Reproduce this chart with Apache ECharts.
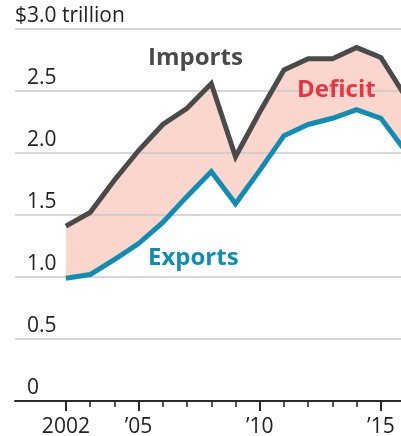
<!DOCTYPE html>
<html>
<head>
<meta charset="utf-8">
<script src="https://cdn.jsdelivr.net/npm/echarts@6/dist/echarts.min.js"></script>
<style>
  html, body { margin: 0; padding: 0; background: #fff; }
  #chart { width: 401px; height: 436px; }
</style>
</head>
<body>
<div id="chart"></div>
<script>
// U.S. trade in goods and services, trillions of dollars
const years   = [2002, 2003, 2004, 2005, 2006, 2007, 2008, 2009, 2010, 2011, 2012, 2013, 2014, 2015, 2016];
const imports = [1.41, 1.52, 1.78, 2.02, 2.23, 2.36, 2.56, 1.97, 2.33, 2.67, 2.76, 2.76, 2.85, 2.77, 2.46];
const exports = [0.99, 1.02, 1.14, 1.27, 1.44, 1.65, 1.85, 1.59, 1.86, 2.14, 2.23, 2.28, 2.35, 2.28, 2.02];

const tickYears  = [2002, 2003, 2004, 2005, 2006, 2007, 2008, 2009, 2010, 2011, 2012, 2013, 2014, 2015];
const labelYears = [2002, 2005, 2010, 2015];

const FONT = '"Open Sans", sans-serif';

const importsPts = years.map((y, i) => [y, imports[i]]);
const exportsPts = years.map((y, i) => [y, exports[i]]);

const chart = echarts.init(document.getElementById('chart'), null, { renderer: 'canvas' });

const xBase = {
  type: 'value',
  min: 1999.9,
  max: 2015.83,
  position: 'bottom',
  splitLine: { show: false },
  z: 4
};

// Shaded band between imports (top) and exports (bottom)
function renderDeficit(params, api) {
  if (params.dataIndex !== 0) return null;
  const top = years.map((y, i) => api.coord([y, imports[i]]));
  const bottom = years.map((y, i) => api.coord([y, exports[i]])).reverse();
  return {
    type: 'polygon',
    shape: { points: top.concat(bottom) },
    style: { fill: '#fad6cd', stroke: null }
  };
}

chart.setOption({
  animation: false,
  backgroundColor: '#fff',
  grid: { left: 15, right: 0, top: 29, bottom: 35, containLabel: false, outerBoundsMode: 'none' },
  xAxis: [
    Object.assign({}, xBase, {
      axisLine: { show: true, lineStyle: { color: '#2a2a2a', width: 2 } },
      axisTick: { show: true, length: 10, lineStyle: { color: '#2a2a2a', width: 2 }, customValues: labelYears },
      axisLabel: {
        show: true, customValues: labelYears, margin: 16,
        color: '#222', fontSize: 21, fontFamily: FONT,
        formatter: v => (v === 2002 ? '2002' : '\u2019' + String(v).slice(2))
      }
    }),
    Object.assign({}, xBase, {
      axisLine: { show: false },
      axisTick: { show: true, length: 6, lineStyle: { color: '#2a2a2a', width: 1.6 }, customValues: tickYears },
      axisLabel: { show: false }
    })
  ],
  yAxis: [
    {
      type: 'value', min: 0, max: 3, interval: 0.5, position: 'left', z: 2,
      axisLine: { show: false }, axisTick: { show: false },
      splitLine: { show: true, lineStyle: { color: '#c9c9c9', width: 1.5 } },
      axisLabel: {
        inside: true, margin: 12, color: '#222', fontSize: 21, fontFamily: FONT,
        verticalAlign: 'bottom', padding: [0, 0, 2, 0],
        formatter: v => (v === 3 ? '' : (v === 0 ? '0' : v.toFixed(1)))
      }
    },
    {
      type: 'value', min: 0, max: 3, interval: 0.5, position: 'left', z: 2,
      axisLine: { show: false }, axisTick: { show: false }, splitLine: { show: false },
      axisLabel: {
        inside: true, margin: 0, color: '#222', fontSize: 21, fontFamily: FONT,
        verticalAlign: 'bottom', padding: [0, 0, 2, 0],
        formatter: v => (v === 3 ? '$3.0 trillion' : '')
      }
    }
  ],
  series: [
    {
      type: 'custom', data: years, renderItem: renderDeficit,
      clip: true, silent: true, z: 1
    },
    {
      name: 'Imports', type: 'line', data: importsPts, symbol: 'none',
      lineStyle: { color: '#4a4a4a', width: 5, join: 'miter' }, z: 3
    },
    {
      name: 'Exports', type: 'line', data: exportsPts, symbol: 'none',
      lineStyle: { color: '#0f8db3', width: 5, join: 'miter' }, z: 3
    }
  ],
  graphic: [
    { type: 'text', left: 148, top: 46, z: 10,
      style: { text: 'Imports', fill: '#4a4a4a', font: 'bold 24px ' + FONT } },
    { type: 'text', left: 297, top: 78, z: 10,
      style: { text: 'Deficit', fill: '#ea3441', font: 'bold 24px ' + FONT } },
    { type: 'text', left: 148, top: 246, z: 10,
      style: { text: 'Exports', fill: '#0f8db3', font: 'bold 24px ' + FONT } }
  ]
});
</script>
</body>
</html>
